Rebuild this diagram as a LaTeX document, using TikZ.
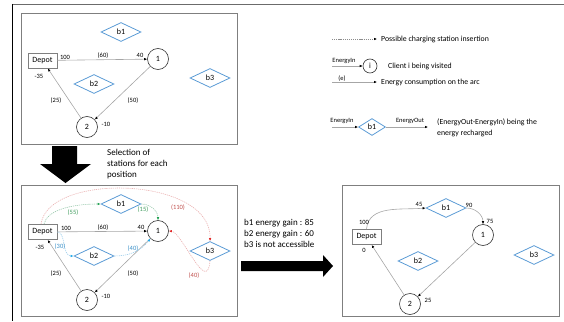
\documentclass[tikz,border=0pt]{standalone}
\usepackage{fontspec}
\setmainfont{Carlito}
\usetikzlibrary{shapes.geometric,arrows.meta}

\definecolor{stblue}{HTML}{5B9BD5}
\definecolor{framegray}{HTML}{7F7F7F}
\definecolor{arcgray}{HTML}{A6A6A6}
\definecolor{redl}{HTML}{EAB0B0}
\definecolor{redd}{HTML}{E02828}
\definecolor{redt}{HTML}{C0504D}
\definecolor{greenl}{HTML}{98C8AC}
\definecolor{greend}{HTML}{1FA050}
\definecolor{greent}{HTML}{3C9A5A}
\definecolor{bluel}{HTML}{A0D0EC}
\definecolor{blued}{HTML}{1FA8E8}
\definecolor{bluet}{HTML}{3A90C8}

\tikzset{
  every node/.style={inner sep=0pt, font=\fontsize{8}{9.6}\selectfont},
  frame/.style={draw=framegray, line width=0.8pt},
  depot/.style={draw=framegray, line width=0.9pt, minimum width=29pt, minimum height=15pt},
  client/.style={circle, draw=black!80, line width=0.6pt, minimum size=21pt},
  station/.style={diamond, draw=stblue, line width=0.8pt, minimum width=40pt, minimum height=19pt},
  tip/.style={-{Latex[length=3pt,width=2.6pt,color=#1]}},
  arc/.style={draw=arcgray, line width=0.6pt, tip=black},
  lbl/.style={font=\fontsize{6.5}{7.8}\selectfont},
  legtext/.style={anchor=west, font=\fontsize{7.8}{11}\selectfont},
  bigtext/.style={anchor=west, align=left, font=\fontsize{9}{11}\selectfont},
  dots/.style={dash pattern=on 1.2pt off 0.9pt, line width=0.6pt},
  redline/.style={dots, draw=redl, tip=redd},
  greenline/.style={dots, draw=greenl, tip=greend},
  blueline/.style={dots, draw=bluel, tip=blued},
}

\begin{document}
\begin{tikzpicture}[x=1pt, y=-1pt]
\useasboundingbox (0,0) rectangle (564,321);

% outer page rules
\draw[color=black!58, line width=1.5pt] (12,4.5) -- (564,4.5);
\draw[black, line width=0.9pt] (12.5,4) -- (12.5,321);

% ---------------- initial tour ----------------
\draw[frame] (21,13) rectangle (237,144);
\node[depot]   (dA)  at (42.5,60.5) {Depot};
\node[client]  (c1A) at (158,59) {1};
\node[client]  (c2A) at (87,127) {2};
\node[station] (b1A) at (121,32) {b1};
\node[station] (b2A) at (94,84) {b2};
\node[station] (b3A) at (210,78) {b3};
\draw[arc] (dA) -- (c1A);
\draw[arc] (c1A) -- (c2A);
\draw[arc] (c2A) -- (dA);
\node[lbl] (lA1) at (65,57) {100};
\node[lbl] (lA2) at (103,56) {(60)};
\node[lbl] (lA3) at (140,55) {40};
\node[lbl] (lA4) at (39,76) {-35};
\node[lbl] (lA5) at (56,101) {(25)};
\node[lbl] (lA6) at (133,101) {(50)};
\node[lbl] (lA7) at (106,124) {-10};

% ---------------- legend ----------------
\coordinate (g1s) at (332,39);
\coordinate (g1e) at (377,39);
\draw[dash pattern=on 1.2pt off 0.9pt, line width=0.6pt, draw=black!45, tip=black] (g1s) -- (g1e);
\node[legtext] (g1t) at (381,39) {Possible charging station insertion};

\coordinate (g2s) at (332,66);
\node[circle, draw=black!80, line width=0.6pt, minimum size=14pt, font=\fontsize{7.8}{9}\selectfont] (g2c) at (370,66) {i};
\draw[arc] (g2s) -- (g2c);
\node[lbl] (g2l) at (344,60.5) {EnergyIn};
\node[legtext] (g2t) at (388,66) {Client i being visited};

\coordinate (g3s) at (332,82);
\coordinate (g3e) at (377,82);
\draw[arc] (g3s) -- (g3e);
\node[lbl] (g3l) at (342,78.5) {(e)};
\node[legtext] (g3t) at (381,82) {Energy consumption on the arc};

\coordinate (g4s) at (332,127);
\node[station, minimum width=27pt, minimum height=17pt] (g4b) at (372,127) {b1};
\coordinate (g4e) at (428,127);
\draw[arc] (g4s) -- (g4b);
\draw[arc] (g4b) -- (g4e);
\node[lbl] (g4l) at (342,121) {EnergyIn};
\node[lbl] (g4o) at (410,121) {EnergyOut};
\node[legtext, align=left, anchor=north west] (g4t) at (437,118.5) {(EnergyOut-EnergyIn) being the\\energy recharged};

% ---------------- selection step ----------------
\fill[black] (52,146) -- (77,146) -- (77,164) -- (91,164) -- (65.5,183) -- (40,164) -- (52,164) -- cycle;
\node[bigtext] (sel) at (107,164) {Selection of\\stations for each\\position};

\draw[frame] (21,185) rectangle (237,316);
\node[depot]   (dB)  at (42.5,232) {Depot};
\node[client]  (c1B) at (158,231) {1};
\node[client]  (c2B) at (87,300) {2};
\node[station] (b1B) at (121,204) {b1};
\node[station] (b2B) at (94,256) {b2};
\node[station] (b3B) at (210,251) {b3};
\draw[arc] (dB) -- (c1B);
\draw[arc] (c1B) -- (c2B);
\draw[arc] (c2B) -- (dB);
\node[lbl] (lB1) at (66,228.5) {100};
\node[lbl] (lB2) at (103,227.5) {(60)};
\node[lbl] (lB3) at (141,227.5) {40};
\node[lbl] (lB4) at (40,247.5) {-35};
\node[lbl] (lB5) at (56,274) {(25)};
\node[lbl] (lB6) at (133,273.5) {(50)};
\node[lbl] (lB7) at (106,296.5) {-10};

% candidate insertions
\draw[redline] ([xshift=-1.5pt]dB.north) .. controls (48,172) and (212,176) .. (b3B.north);
\draw[redline] (b3B.south) .. controls (207,296) and (182,232) .. (c1B.east);
\draw[greenline] ([xshift=1.5pt]dB.north) .. controls (47,210) and (72,204) .. (b1B.west);
\draw[greenline] (b1B.east) to[out=0, in=90] (c1B.north);
\draw[blueline] (dB.east) .. controls (66,232) and (62,256) .. (b2B.west);
\draw[blueline] (b2B.east) .. controls (128,256) and (140,252) .. (c1B.south west);
\node[lbl, text=greent] (lB8)  at (73,213) {(55)};
\node[lbl, text=greent] (lB9)  at (143,210) {(15)};
\node[lbl, text=redt]   (lB10) at (178,208) {(110)};
\node[lbl, text=bluet]  (lB11) at (60,247) {(30)};
\node[lbl, text=bluet]  (lB12) at (133,249) {(40)};
\node[lbl, text=redt]   (lB13) at (194,276) {(40)};

\node[bigtext] (gain) at (244,233) {b1 energy gain : 85\\b2 energy gain : 60\\b3 is not accessible};
\fill[black] (241,261) -- (323,261) -- (323,255) -- (333,266) -- (323,277) -- (323,271) -- (241,271) -- cycle;

% ---------------- resulting tour ----------------
\draw[frame] (342,185) rectangle (559,316);
\node[depot]   (dC)  at (366.5,237) {Depot};
\node[client]  (c1C) at (483,235) {1};
\node[client]  (c2C) at (410,304) {2};
\node[station] (b1C) at (446,208) {b1};
\node[station] (b2C) at (418,261) {b2};
\node[station] (b3C) at (534,255) {b3};
\draw[arc] (dC.north) to[out=85, in=185] (b1C.west);
\draw[arc] (b1C.east) to[out=0, in=90] (c1C.north);
\draw[arc] (c1C) -- (c2C);
\draw[arc] (c2C) -- (dC);
\node[lbl] (lC1) at (364,222) {100};
\node[lbl] (lC2) at (419,204) {45};
\node[lbl] (lC3) at (469,205) {90};
\node[lbl] (lC4) at (490,221) {75};
\node[lbl] (lC5) at (364,250) {0};
\node[lbl] (lC6) at (428,300) {25};
\end{tikzpicture}
\end{document}
